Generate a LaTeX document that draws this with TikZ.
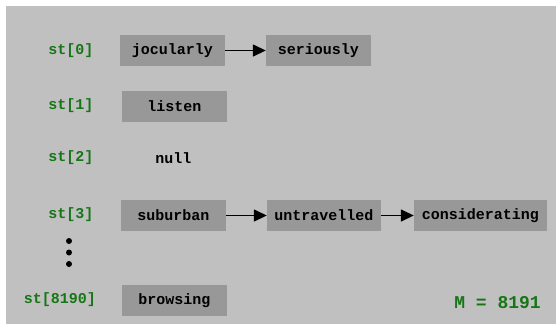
\documentclass[tikz,border=0pt]{standalone}
\usepackage{fontspec}
\setmonofont{Liberation Mono}
\usetikzlibrary{arrows.meta}
\definecolor{panel}{RGB}{192,192,192}
\definecolor{cell}{RGB}{152,152,152}
\definecolor{idx}{RGB}{22,118,22}
\tikzset{
  keybox/.style={fill=cell, inner sep=0pt, minimum height=31pt, font=\ttfamily\bfseries\fontsize{15}{15}\selectfont},
  idxlabel/.style={text=idx, font=\ttfamily\bfseries\fontsize{15}{15}\selectfont},
  plain/.style={font=\ttfamily\bfseries\fontsize{15}{15}\selectfont},
  link/.style={line width=1.5pt, -{Triangle[length=13pt,width=12pt]}},
  dot/.style={circle, fill=black, inner sep=0pt, minimum size=6pt}
}
\begin{document}
\begin{tikzpicture}[x=1pt,y=-1pt]
  \useasboundingbox (0,0) rectangle (556,325);
  \fill[panel] (6,6) rectangle (556,324);

  % index labels
  \node[idxlabel] (i0) at (71,50.5) {st[0]};
  \node[idxlabel] (i1) at (71,106) {st[1]};
  \node[idxlabel] (i2) at (71,158) {st[2]};
  \node[idxlabel] (i3) at (71,215) {st[3]};
  \node[idxlabel] (i8190) at (60,299.5) {st[8190]};

  % chains
  \node[keybox, minimum width=105pt] (jocularly) at (172.5,50.5) {jocularly};
  \node[keybox, minimum width=105pt] (seriously) at (318.5,50.5) {seriously};
  \node[keybox, minimum width=105pt] (listen) at (174.5,106.5) {listen};
  \node[plain] (null) at (173.5,158) {null};
  \node[keybox, minimum width=105pt] (suburban) at (173.5,215.5) {suburban};
  \node[keybox, minimum width=114pt] (untravelled) at (324,215.5) {untravelled};
  \node[keybox, minimum width=133pt] (considerating) at (480.5,215.5) {considerating};
  \node[keybox, minimum width=105pt] (browsing) at (174.5,300.5) {browsing};

  \draw[link] (jocularly) -- (seriously);
  \draw[link] (suburban) -- (untravelled);
  \draw[link] (untravelled) -- (considerating);

  % vertical ellipsis
  \node[dot] (d1) at (69,241) {};
  \node[dot] (d2) at (69,252.5) {};
  \node[dot] (d3) at (69,264) {};

  \node[text=idx, font=\ttfamily\bfseries\fontsize{18}{18}\selectfont] (m) at (497.5,302.5) {M = 8191};
\end{tikzpicture}
\end{document}
